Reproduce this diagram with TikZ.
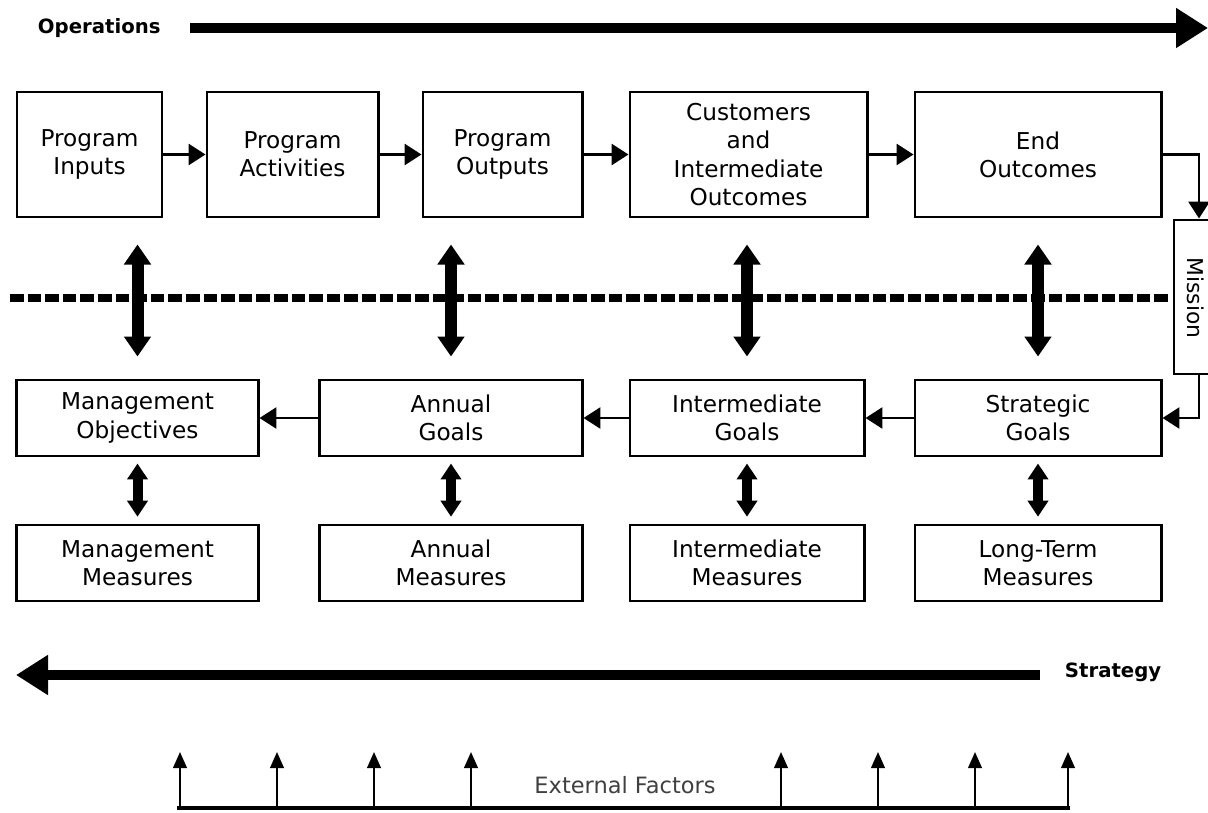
\documentclass[tikz,border=0pt]{standalone}
\usepackage{fontspec}
\setmainfont{DejaVu Sans}
\usetikzlibrary{arrows.meta}
\tikzset{
  box/.style={draw, line width=2.1pt, inner sep=0pt, align=center,
    font=\fontsize{16.5}{20}\selectfont},
  flow/.style={line width=2pt, -{Triangle[length=0.42cm,width=0.52cm]}},
  bigdbl/.style={line width=0.3cm, {Triangle[length=0.5cm,width=0.65cm]}-{Triangle[length=0.5cm,width=0.65cm]}},
  smalldbl/.style={line width=0.25cm, {Triangle[length=0.4cm,width=0.5cm]}-{Triangle[length=0.4cm,width=0.5cm]}},
  bigarrow/.style={line width=0.27cm, -{Triangle[length=0.8cm,width=0.95cm]}},
  efarrow/.style={line width=1.5pt, -{Triangle[length=0.4cm,width=0.34cm]}},
  title/.style={font=\fontsize{14}{17}\selectfont\bfseries}
}
\begin{document}
\begin{tikzpicture}[x=0.025cm,y=-0.025cm]
\useasboundingbox (0,0) rectangle (1208,813);
% operations row
\node[box, minimum width=3.625cm, minimum height=3.125cm] (inputs) at (89.5,154.5) {Program\\Inputs};
\node[box, minimum width=4.275cm, minimum height=3.125cm] (activities) at (292.5,154.5) {Program\\Activities};
\node[box, minimum width=3.975cm, minimum height=3.125cm] (outputs) at (502.5,154.5) {Program\\Outputs};
\node[box, minimum width=5.925cm, minimum height=3.125cm] (customers) at (748.5,154.5) {Customers\\and\\Intermediate\\Outcomes};
\node[box, minimum width=6.15cm, minimum height=3.125cm] (endout) at (1038,154.5) {End\\Outcomes};
\node[box, minimum width=1.25cm, minimum height=3.85cm] (mission) at (1199,297) {};
\node[rotate=-90, inner sep=1pt, font=\fontsize{15.5}{19}\selectfont] (missiontext) at (1196,298) {Mission};
% goals row
\node[box, minimum width=6.025cm, minimum height=1.9cm] (mgmtobj) at (137.5,418) {Management\\Objectives};
\node[box, minimum width=6.55cm, minimum height=1.9cm] (annualgoals) at (451,418) {Annual\\Goals};
\node[box, minimum width=5.85cm, minimum height=1.9cm] (intergoals) at (747,418) {Intermediate\\Goals};
\node[box, minimum width=6.15cm, minimum height=1.9cm] (stratgoals) at (1038,418) {Strategic\\Goals};
% measures row
\node[box, minimum width=6.025cm, minimum height=1.9cm] (mgmtmeas) at (137.5,563) {Management\\Measures};
\node[box, minimum width=6.55cm, minimum height=1.9cm] (annualmeas) at (451,563) {Annual\\Measures};
\node[box, minimum width=5.85cm, minimum height=1.9cm] (intermeas) at (747,563) {Intermediate\\Measures};
\node[box, minimum width=6.15cm, minimum height=1.9cm] (longmeas) at (1038,563) {Long-Term\\Measures};
% titles
\node[title, anchor=west] (operations) at (33,28) {Operations};
\node[title, anchor=west] (strategy) at (1060,672) {Strategy};
\node[font=\fontsize{16}{19.5}\selectfont, text=black!75] (external) at (625,785) {External Factors};
\coordinate (opsstart) at (190,28);
\coordinate (opsend) at (1208,28);
\coordinate (stratstart) at (1040,675);
\coordinate (stratend) at (16,675);
\coordinate (dashleft) at (10,298);
\coordinate (dashright) at (1170,298);
\coordinate (efleft) at (177,808);
\coordinate (efright) at (1070,808);
\coordinate (f1) at (180,808);
\coordinate (f2) at (277,808);
\coordinate (f3) at (374,808);
\coordinate (f4) at (471,808);
\coordinate (f5) at (781,808);
\coordinate (f6) at (878,808);
\coordinate (f7) at (975,808);
\coordinate (f8) at (1068,808);
\coordinate (t1) at (180,752);
\coordinate (t2) at (277,752);
\coordinate (t3) at (374,752);
\coordinate (t4) at (471,752);
\coordinate (t5) at (781,752);
\coordinate (t6) at (878,752);
\coordinate (t7) at (975,752);
\coordinate (t8) at (1068,752);
% connectors
\draw[bigarrow] (opsstart) -- (opsend);
\draw[bigarrow] (stratstart) -- (stratend);
\draw[line width=0.18cm, dash pattern=on 0.34cm off 0.1cm] (dashleft) -- (dashright);
\draw[flow] (inputs) -- (activities);
\draw[flow] (activities) -- (outputs);
\draw[flow] (outputs) -- (customers);
\draw[flow] (customers) -- (endout);
\draw[flow] (endout.east) -| (mission.north);
\draw[flow] (mission.south) |- (stratgoals.east);
\draw[flow] (stratgoals) -- (intergoals);
\draw[flow] (intergoals) -- (annualgoals);
\draw[flow] (annualgoals) -- (mgmtobj);
\draw[bigdbl, shorten <=0.65cm, shorten >=0.55cm] (inputs.south -| mgmtobj.north) -- (mgmtobj.north);
\draw[bigdbl, shorten <=0.65cm, shorten >=0.55cm] (outputs.south -| annualgoals.north) -- (annualgoals.north);
\draw[bigdbl, shorten <=0.65cm, shorten >=0.55cm] (customers.south -| intergoals.north) -- (intergoals.north);
\draw[bigdbl, shorten <=0.65cm, shorten >=0.55cm] (endout.south) -- (stratgoals.north);
\draw[smalldbl, shorten <=0.15cm, shorten >=0.17cm] (mgmtobj) -- (mgmtmeas);
\draw[smalldbl, shorten <=0.15cm, shorten >=0.17cm] (annualgoals) -- (annualmeas);
\draw[smalldbl, shorten <=0.15cm, shorten >=0.17cm] (intergoals) -- (intermeas);
\draw[smalldbl, shorten <=0.15cm, shorten >=0.17cm] (stratgoals) -- (longmeas);
\draw[line width=3pt] (efleft) -- (efright);
\draw[efarrow] (f1) -- (t1);
\draw[efarrow] (f2) -- (t2);
\draw[efarrow] (f3) -- (t3);
\draw[efarrow] (f4) -- (t4);
\draw[efarrow] (f5) -- (t5);
\draw[efarrow] (f6) -- (t6);
\draw[efarrow] (f7) -- (t7);
\draw[efarrow] (f8) -- (t8);
\end{tikzpicture}
\end{document}
